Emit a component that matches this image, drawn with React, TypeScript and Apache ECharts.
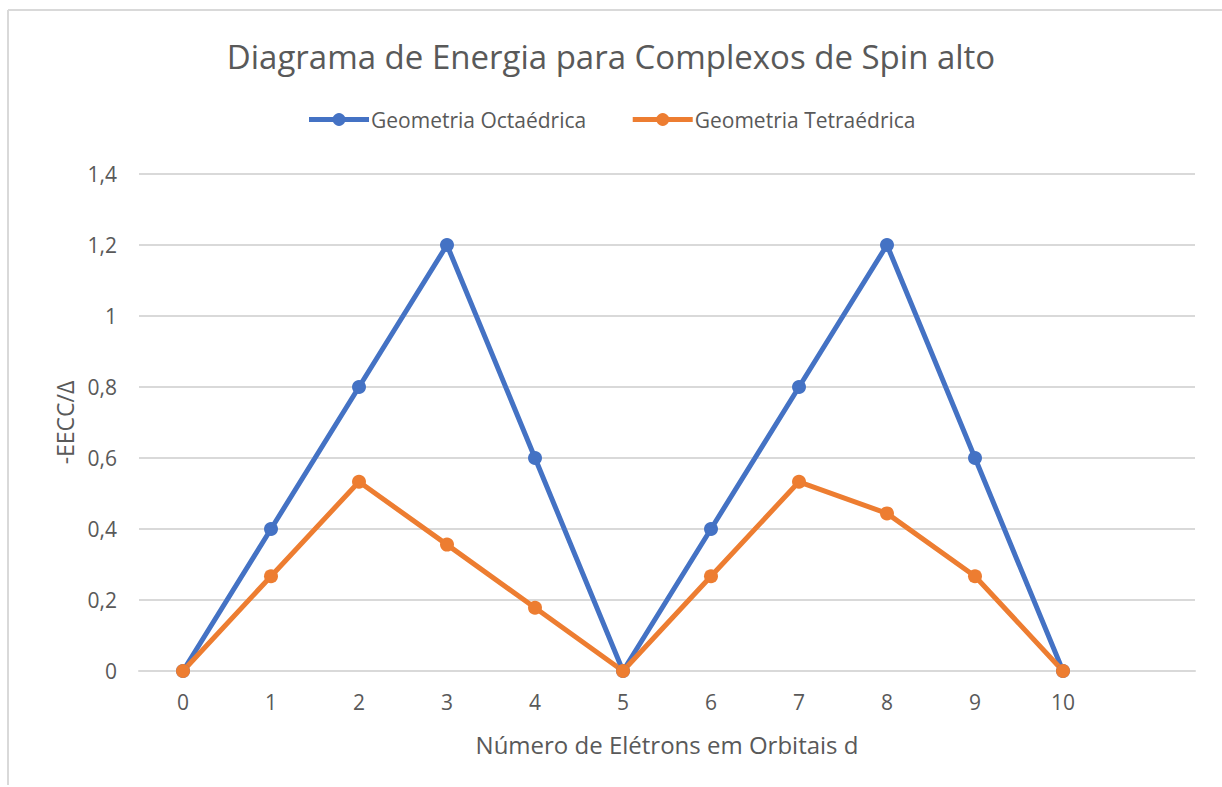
import React, { useEffect, useRef } from "react";
import * as echarts from "echarts";

const categories = ["0", "1", "2", "3", "4", "5", "6", "7", "8", "9", "10", ""];
const octaedrica = [0, 0.4, 0.8, 1.2, 0.6, 0, 0.4, 0.8, 1.2, 0.6, 0];
const tetraedrica = [0, 0.267, 0.533, 0.356, 0.178, 0, 0.267, 0.533, 0.444, 0.267, 0];
const seriesNames = ["Geometria Octaédrica", "Geometria Tetraédrica"];
const yTicks = [0, 0.2, 0.4, 0.6, 0.8, 1, 1.2, 1.4];

const FONT = "'Open Sans', 'Noto Sans', sans-serif";
const TXT = "#595959";

export default function App() {
  const ref = useRef<HTMLDivElement>(null);
  useEffect(() => {
    const chart = echarts.init(ref.current!, null, { renderer: "svg" });
    chart.setOption({
      animation: false,
      backgroundColor: "#ffffff",
      title: {
        text: "Diagrama de Energia para Complexos de Spin alto",
        left: "center",
        top: 35,
        textStyle: { fontFamily: FONT, fontSize: 33, fontWeight: "normal", color: TXT },
      },
      legend: {
        top: 104,
        left: "center",
        itemWidth: 60,
        itemHeight: 16,
        itemGap: 44,
        lineStyle: { width: 5 },
        textStyle: { fontFamily: FONT, fontSize: 21, color: TXT, padding: [0, 0, 0, -3] },
        data: seriesNames,
      },
      grid: { left: 139, right: 27, top: 174, bottom: 116, containLabel: false },
      xAxis: {
        type: "category",
        data: categories,
        boundaryGap: true,
        axisLine: { show: true, lineStyle: { color: "#d9d9d9", width: 2 } },
        axisTick: { show: false },
        axisLabel: { fontFamily: FONT, fontSize: 21, color: TXT, margin: 20 },
        name: "Número de Elétrons em Orbitais d",
        nameLocation: "middle",
        nameGap: 61,
        nameTextStyle: { fontFamily: FONT, fontSize: 24, color: TXT },
      },
      yAxis: {
        type: "value",
        min: 0,
        max: 1.4,
        interval: 0.2,
        axisLine: { show: false },
        axisTick: { show: false },
        splitLine: { lineStyle: { color: "#d9d9d9", width: 2 } },
        axisLabel: {
          fontFamily: FONT,
          fontSize: 21,
          color: TXT,
          margin: 22,
          formatter: (v: number) => {
            const t = yTicks.find((x) => Math.abs(x - v) < 1e-6);
            const val = t !== undefined ? t : v;
            return String(Math.round(val * 10) / 10).replace(".", ",");
          },
        },
        name: "-EECC/Δ",
        nameLocation: "middle",
        nameGap: 60,
        nameRotate: 90,
        nameTextStyle: { fontFamily: FONT, fontSize: 23, color: TXT },
      },
      series: [
        {
          name: seriesNames[0],
          type: "line",
          data: octaedrica,
          color: "#4472C4",
          lineStyle: { width: 5, color: "#4472C4" },
          symbol: "circle",
          symbolSize: 14,
          itemStyle: { color: "#4472C4" },
        },
        {
          name: seriesNames[1],
          type: "line",
          data: tetraedrica,
          color: "#ED7D31",
          lineStyle: { width: 5, color: "#ED7D31" },
          symbol: "circle",
          symbolSize: 14,
          itemStyle: { color: "#ED7D31" },
        },
      ],
      graphic: [
        { type: "line", shape: { x1: 8, y1: 10, x2: 1222, y2: 10 }, style: { stroke: "#d9d9d9", lineWidth: 2 } },
        { type: "line", shape: { x1: 8, y1: 10, x2: 8, y2: 785 }, style: { stroke: "#d9d9d9", lineWidth: 2 } },
      ],
    });
    return () => chart.dispose();
  }, []);
  return (
    <div
      ref={ref}
      style={{ position: "fixed", left: 0, top: 0, width: 1222, height: 787 }}
    />
  );
}
